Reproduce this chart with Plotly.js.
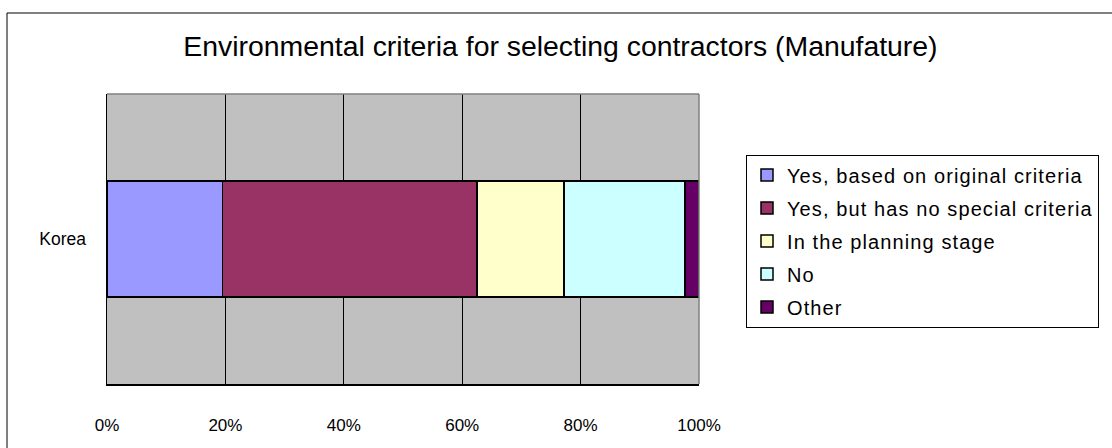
<!DOCTYPE html>
<html>
<head>
<meta charset="utf-8">
<script src="https://cdn.plot.ly/plotly-3.0.1.min.js"></script>
<style>
html,body{margin:0;padding:0;background:#fff;}
#chart{width:1112px;height:448px;}
.legendtext{letter-spacing:1.1px;}
</style>
</head>
<body>
<div id="chart"></div>
<script>
const categories = ['Korea'];
const seriesNames = ['Yes, based on original criteria', 'Yes, but has no special criteria', 'In the planning stage', 'No', 'Other'];
const yesOriginal = [19.5];
const yesNoSpecial = [43.0];
const planning = [14.7];
const no = [20.4];
const other = [2.4];
const xTickVals = [0, 20, 40, 60, 80, 100];
const xTickText = ['0%', '20%', '40%', '60%', '80%', '100%'];
const colors = ['#9999FF', '#993366', '#FFFFCC', '#CCFFFF', '#660066'];

const seriesValues = [yesOriginal, yesNoSpecial, planning, no, other];
const traces = seriesValues.map((vals, i) => ({
  type: 'bar',
  orientation: 'h',
  y: categories,
  x: vals,
  name: seriesNames[i],
  legendgroup: 'g' + i,
  marker: {color: colors[i], line: {color: '#000000', width: 1.5}},
  hoverinfo: 'name+x'
}));

const font = 'Liberation Sans, Arial, sans-serif';
const L = 107, R = 699, T = 94, B = 384, W = 1112, H = 448;
const pw = R - L, ph = B - T;

const layout = {
  width: W, height: H,
  margin: {l: L, r: W - R, t: T, b: H - B, pad: 0},
  paper_bgcolor: '#FFFFFF',
  plot_bgcolor: '#C0C0C0',
  barmode: 'stack',
  bargap: 0.6,
  showlegend: true,
  font: {family: font, color: '#000000'},
  title: {
    text: 'Environmental criteria for selecting contractors (Manufature)',
    font: {family: font, size: 28.4, color: '#000000'},
    xref: 'container', x: 0.504, xanchor: 'center',
    yref: 'container', y: 1 - 46 / H, yanchor: 'middle'
  },
  xaxis: {
    range: [0, 100],
    tickvals: xTickVals,
    ticktext: xTickText,
    showgrid: true,
    gridcolor: '#000000',
    gridwidth: 1,
    zeroline: false,
    showline: true,
    linecolor: '#000000',
    linewidth: 1.5,
    mirror: false,
    ticks: '',
    ticklabelstandoff: 25,
    tickfont: {family: font, size: 17, color: '#000000'},
    fixedrange: true
  },
  yaxis: {
    type: 'category',
    showgrid: false,
    zeroline: false,
    showline: true,
    linecolor: '#000000',
    linewidth: 1.5,
    ticks: '',
    ticklabelstandoff: 16,
    tickfont: {family: font, size: 17.5, color: '#000000'},
    fixedrange: true
  },
  legend: {
    x: (746 - L) / pw, xanchor: 'left',
    y: (B - 241) / ph, yanchor: 'middle',
    traceorder: 'grouped',
    tracegroupgap: 4,
    bgcolor: '#FFFFFF',
    bordercolor: '#000000',
    borderwidth: 1,
    font: {family: font, size: 20, color: '#000000'},
    itemclick: false, itemdoubleclick: false
  },
  shapes: [
    {type: 'line', xref: 'paper', yref: 'paper', x0: 0, x1: 1, y0: 1, y1: 1, line: {color: '#808080', width: 1.5}},
    {type: 'line', xref: 'paper', yref: 'paper', x0: 1, x1: 1, y0: 0, y1: 1, line: {color: '#808080', width: 1.5}},
    {type: 'rect', xref: 'paper', yref: 'paper',
     x0: (7 - L) / pw, x1: (1130 - L) / pw,
     y0: (B - 470) / ph, y1: (B - 13) / ph,
     line: {color: '#000000', width: 1}, fillcolor: 'rgba(0,0,0,0)', layer: 'above'}
  ]
};

Plotly.newPlot('chart', traces, layout, {displayModeBar: false, staticPlot: true});
</script>
</body>
</html>
